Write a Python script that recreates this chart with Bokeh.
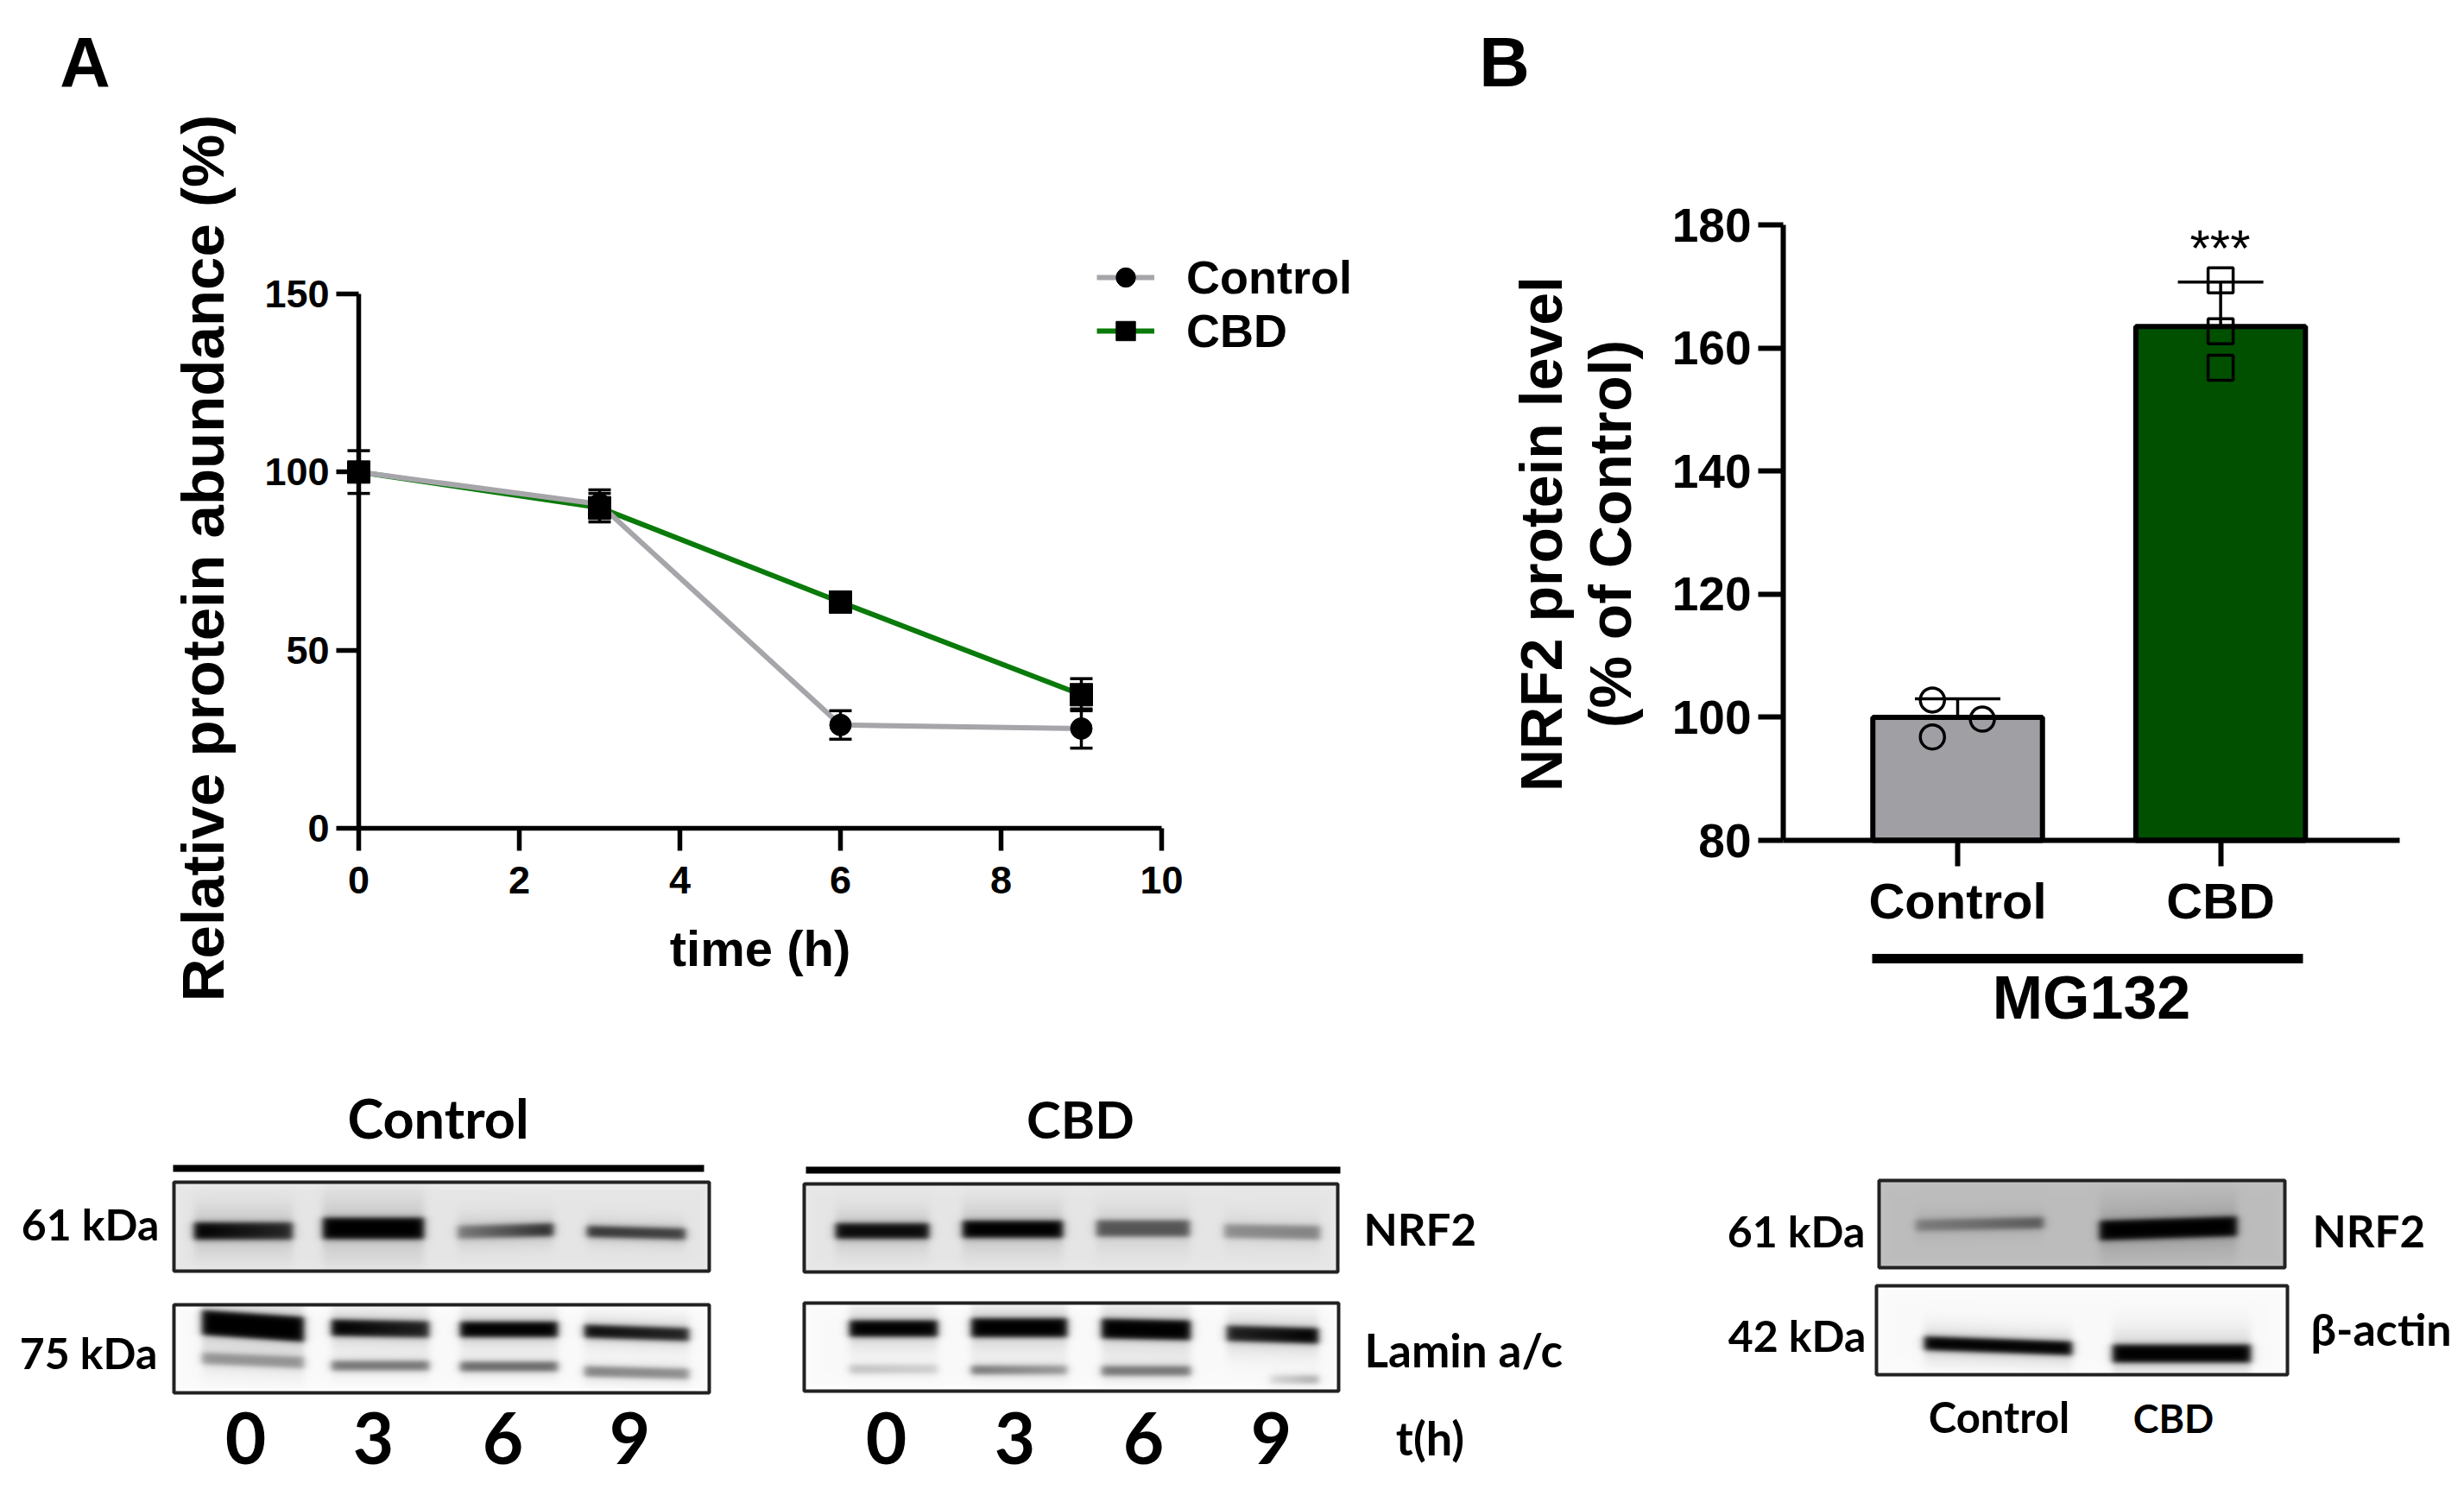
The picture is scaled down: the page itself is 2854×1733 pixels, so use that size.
import numpy as np
from math import pi
from bokeh.plotting import figure
from bokeh.layouts import column, row
from bokeh.models import (Range1d, Legend, LegendItem, Whisker, TeeHead, ColumnDataSource,
                          FixedTicker)
from bokeh.core.properties import value
from bokeh.embed import file_html
from bokeh.resources import INLINE

# ---- Panel A data
time_h = [0, 3, 6, 9]
control_abund = [100, 91, 29, 28]
control_err = [6, 4, 4, 5.5]
cbd_abund = [100, 90, 63.5, 37.5]
cbd_err = [2, 4, 2, 4.5]
a_xticks = [0, 2, 4, 6, 8, 10]
a_yticks = [0, 50, 100, 150]

# ---- Panel B data
groups = ["Control", "CBD"]
group_pos = [1, 2]
bar_means = [100, 163.5]
control_points = [102.8, 99.7, 96.8]
control_point_x = [0.904, 1.094, 0.904]
cbd_points = [171, 162.7, 156.8]
control_sd = 3.0
cbd_sd = 7.2
b_yticks = [80, 100, 120, 140, 160, 180]

ARIAL = value("Liberation Sans")
CAL = value("Lato")
GREY = "#a6a6aa"
GREEN = "#0a7a0a"
BASE_FIX = 0.35
SPLIT = 1240


class Fig:
    """A figure filling a box of the page, plus page-pixel to data converters."""

    def __init__(self, px0, px1, py0, py1, x_at, y_at):
        (pa, va, pb, vb) = x_at
        sx = (vb - va) / (pb - pa)
        (qa, ua, qb, ub) = y_at
        sy = (ub - ua) / (qb - qa)
        self.p = figure(width=px1 - px0, height=py1 - py0, output_backend="svg", toolbar_location=None,
                        x_range=Range1d(va + (px0 - pa) * sx, va + (px1 - pa) * sx),
                        y_range=Range1d(ua + (py1 - qa) * sy, ua + (py0 - qa) * sy),
                        min_border=0)
        self.p.grid.visible = False
        self.p.outline_line_color = None
        self.fx = lambda x: va + (x - pa) * sx
        self.fy = lambda y: ua + (y - qa) * sy

    def txt(self, sx, sy, s, font=ARIAL, size=45, style="bold", angle=0.0, align="center"):
        if angle:
            sx = sx - BASE_FIX * size
        else:
            sy = sy - BASE_FIX * size
        self.p.text(x=[self.fx(sx)], y=[self.fy(sy)], text=[s], text_font=font,
                    text_font_size=value(f"{size}px"), text_font_style=style, angle=angle,
                    text_align=align, text_baseline="alphabetic", text_color="black")


def style_axis(ax, size, tick, lw=5):
    ax.major_label_text_font = "Liberation Sans"
    ax.major_label_text_font_style = "bold"
    ax.major_label_text_font_size = size
    ax.major_label_text_color = "black"
    ax.axis_line_width = lw
    ax.major_tick_line_width = lw
    ax.major_tick_in = 0
    ax.major_tick_out = tick
    ax.minor_tick_line_color = None


# ================= Panel A
fa = Fig(0, 1700, 0, SPLIT, (415, 0, 1345, 10), (959, 0, 340, 150))
pa = fa.p
xa = pa.xaxis[0]
ya = pa.yaxis[0]
xa.fixed_location = 0
ya.fixed_location = 0
xa.bounds = (0, 10)
ya.bounds = (0, 150)
xa.ticker = FixedTicker(ticks=a_xticks)
ya.ticker = FixedTicker(ticks=a_yticks)
style_axis(xa, "45px", 26, 5.5)
style_axis(ya, "45px", 26, 5.5)
xa.major_label_standoff = 18
ya.major_label_standoff = 8

src_c = ColumnDataSource(dict(x=time_h, y=control_abund,
                              up=[a + b for a, b in zip(control_abund, control_err)],
                              lo=[a - b for a, b in zip(control_abund, control_err)]))
src_b = ColumnDataSource(dict(x=time_h, y=cbd_abund,
                              up=[a + b for a, b in zip(cbd_abund, cbd_err)],
                              lo=[a - b for a, b in zip(cbd_abund, cbd_err)]))
l_b = pa.line("x", "y", source=src_b, line_color=GREEN, line_width=6)
l_c = pa.line("x", "y", source=src_c, line_color=GREY, line_width=6)
for s in (src_c, src_b):
    pa.add_layout(Whisker(source=s, base="x", upper="up", lower="lo", line_width=3.5, line_color="black",
                          upper_head=TeeHead(size=26, line_width=3.5, line_color="black"),
                          lower_head=TeeHead(size=26, line_width=3.5, line_color="black"), level="glyph"))
m_b = pa.scatter("x", "y", source=src_b, marker="square", size=26, color="black")
m_c = pa.scatter("x", "y", source=src_c, marker="circle", size=25, color="black")

leg = Legend(items=[LegendItem(label="Control", renderers=[l_c, m_c]),
                    LegendItem(label="CBD", renderers=[l_b, m_b])],
             location=(1270, 826), padding=0, margin=0, spacing=0, glyph_width=67, glyph_height=56,
             label_standoff=37, label_text_font="Liberation Sans", label_text_color="black",
             label_text_font_size="54px", label_text_font_style="bold", label_height=56,
             background_fill_alpha=0, border_line_color=None)
pa.add_layout(leg, "center")

fa.txt(880, 1118, "time (h)", size=58)
fa.txt(259, 646, "Relative protein abundance (%)", size=69, angle=pi / 2)
fa.txt(98, 100, "A", size=81)

# ================= Panel B
fb = Fig(1700, 2850, 0, SPLIT, (2267, 1, 2571.6, 2), (973, 80, 260, 180))
pb = fb.p
xb = pb.xaxis[0]
yb = pb.yaxis[0]
xb.fixed_location = 80
yb.fixed_location = 0.337
xb.bounds = (0.337, 2.68)
yb.bounds = (80, 180)
xb.ticker = FixedTicker(ticks=group_pos)
yb.ticker = FixedTicker(ticks=b_yticks)
xb.major_label_overrides = {k: g for k, g in zip(group_pos, groups)}
style_axis(xb, "58px", 30, 6)
style_axis(yb, "55px", 29, 6)
xb.major_label_standoff = 7
yb.major_label_standoff = 8

pb.vbar(x=group_pos, top=bar_means, bottom=80, width=0.645, fill_color=["#a0a0a4", "#005000"],
        line_color="black", line_width=6)
wb1 = ColumnDataSource(dict(x=[group_pos[0]], up=[bar_means[0] + control_sd], lo=[bar_means[0] - control_sd]))
wb2 = ColumnDataSource(dict(x=[group_pos[1]], up=[bar_means[1] + cbd_sd], lo=[bar_means[1]]))
pb.add_layout(Whisker(source=wb1, base="x", upper="up", lower="lo", line_width=3.5, line_color="black",
                      upper_head=TeeHead(size=99, line_width=3.5, line_color="black"),
                      lower_head=TeeHead(size=99, line_width=3.5, line_color="black")))
pb.add_layout(Whisker(source=wb2, base="x", upper="up", lower="lo", line_width=3.5, line_color="black",
                      upper_head=TeeHead(size=99, line_width=3.5, line_color="black"), lower_head=None))
pb.scatter(control_point_x, control_points, marker="circle", size=28, fill_color=None,
           line_color="black", line_width=3.5)
pb.scatter([group_pos[1]] * 3, cbd_points, marker="square", size=29, fill_color=None,
           line_color="black", line_width=3.5)

fb.txt(1808, 618, "NRF2 protein level", size=68, angle=pi / 2)
fb.txt(1888, 618, "(% of Control)", size=68, angle=pi / 2)
fb.txt(2571, 308, "***", size=60, style="normal")
fb.txt(2422, 1180, "MG132", size=70)
pb.segment(x0=[fb.fx(2168)], x1=[fb.fx(2667)], y0=[fb.fy(1110)], y1=[fb.fy(1110)],
           line_color="black", line_width=11)
fb.txt(1742, 100, "B", size=81)

# ================= Blots
fc = Fig(0, 2850, SPLIT, 1731, (0, 0, 1, 1), (0, 0, 1, 1))
pc = fc.p
pc.xaxis.visible = False
pc.yaxis.visible = False


def smooth(u, w):
    return 0.5 * (1 + np.tanh(u / w))


def blot(box, bg, bands):
    x0, x1, y0, y1 = box
    w, h = x1 - x0, y1 - y0
    X, Y = np.meshgrid(np.arange(w) + x0, np.arange(h) + y0)
    trans = np.ones_like(X, dtype=float)
    for (a, b, yc, th, dl, dr, tilt) in bands:
        t = np.clip((X - a) / (b - a), 0, 1)
        d = dl + (dr - dl) * t
        yy = yc + tilt * (t - 0.5)
        th2 = th + 3
        prof_y = smooth(Y - (yy - th2 / 2), 3.5) * smooth((yy + th2 / 2) - Y, 3.5)
        prof_x = smooth(X - a, 5.0) * smooth(b - X, 5.0)
        trans *= 1 - np.clip(d * prof_y * prof_x, 0, 1)
        halo = np.exp(-((Y - yy) / (th * 1.6)) ** 2) * prof_x * 0.14 * max(dl, dr)
        trans *= 1 - halo
    edge = np.minimum.reduce([X - x0, x1 - X, Y - y0, y1 - Y])
    lighten = 0.03 * np.exp(-edge / 5.0)
    g = np.clip((bg + lighten) * trans * 255, 0, 255).astype(np.uint8)
    img = np.zeros((h, w), dtype=np.uint32)
    view = img.view(dtype=np.uint8).reshape((h, w, 4))
    view[..., 0] = g
    view[..., 1] = g
    view[..., 2] = g
    view[..., 3] = 255
    pc.image_rgba(image=[img], x=[x0], y=[y0], dw=[w], dh=[h])
    pc.quad(left=[x0], right=[x1], top=[y0], bottom=[y1], fill_color=None, line_color="#222222", line_width=4)


blot((201, 821, 1369, 1472), 0.90, [
    (224, 338, 1425, 17, 1.0, 0.8, 0), (373, 490, 1422, 22, 1.0, 1.0, 0),
    (529, 640, 1425, 12, 0.4, 0.8, -3), (679, 793, 1427, 10, 0.75, 0.7, 3)])
blot((201, 821, 1511, 1613), 0.98, [
    (233, 351, 1535, 26, 1.0, 1.0, 8), (383, 496, 1538, 16, 1.0, 0.85, 2),
    (532, 645, 1539, 15, 1.0, 1.0, 0), (676, 797, 1543, 12, 0.95, 0.85, 4),
    (233, 351, 1575, 10, 0.35, 0.35, 5), (383, 496, 1581, 8, 0.5, 0.5, 0),
    (532, 645, 1582, 8, 0.55, 0.55, 0), (676, 797, 1589, 9, 0.45, 0.4, 3)])
blot((931, 1549, 1371, 1473), 0.90, [
    (967, 1075, 1425, 15, 0.95, 0.95, 0), (1114, 1230, 1423, 17, 1.0, 1.0, 0),
    (1269, 1377, 1422, 16, 0.6, 0.6, 0), (1417, 1528, 1426, 13, 0.35, 0.4, 2)])
blot((931, 1550, 1509, 1611), 0.98, [
    (983, 1085, 1538, 16, 1.0, 1.0, 0), (1124, 1235, 1537, 19, 1.0, 1.0, 0),
    (1275, 1378, 1539, 20, 1.0, 1.0, 2), (1420, 1526, 1545, 15, 0.85, 1.0, 3),
    (983, 1085, 1585, 7, 0.2, 0.15, 0), (1124, 1235, 1586, 7, 0.5, 0.35, 0),
    (1275, 1378, 1587, 8, 0.5, 0.5, 0), (1470, 1526, 1597, 6, 0.1, 0.3, 0)])
blot((2176, 2646, 1367, 1468), 0.74, [
    (2218, 2366, 1417, 10, 0.3, 0.5, -3), (2431, 2590, 1422, 20, 1.0, 1.0, -5)])
blot((2173, 2649, 1489, 1592), 0.98, [
    (2228, 2399, 1558, 13, 1.0, 1.0, 6), (2446, 2606, 1567, 18, 1.0, 1.0, 0)])

# header bars
pc.segment(x0=[200, 933], x1=[815, 1552], y0=[1353, 1355], y1=[1353, 1355], line_color="black", line_width=8)

fc.txt(507, 1316, "Control", font=CAL, size=63)
fc.txt(1251, 1316, "CBD", font=CAL, size=60)
for xs in ([284, 432, 582, 729], [1026, 1175, 1324, 1472]):
    for xx, c in zip(xs, "0369"):
        fc.txt(xx, 1694, c, font=CAL, size=82)
fc.txt(1656, 1684, "t(h)", font=CAL, size=54)
fc.txt(104, 1435, "61 kDa", font=CAL, size=50)
fc.txt(102, 1584, "75 kDa", font=CAL, size=50)
fc.txt(1579, 1441, "NRF2", font=CAL, size=51, align="left")
fc.txt(1580, 1582, "Lamin a/c", font=CAL, size=53, align="left")
fc.txt(2080, 1443, "61 kDa", font=CAL, size=50)
fc.txt(2081, 1564, "42 kDa", font=CAL, size=50)
fc.txt(2678, 1443, "NRF2", font=CAL, size=51, align="left")
fc.txt(2676, 1557, "β-actin", font=CAL, size=52, align="left")
fc.txt(2315, 1658, "Control", font=CAL, size=49)
fc.txt(2517, 1658, "CBD", font=CAL, size=45)

layout = column(row(pa, pb, spacing=0), pc, spacing=0)
open("out.html", "w").write(file_html(layout, INLINE))
